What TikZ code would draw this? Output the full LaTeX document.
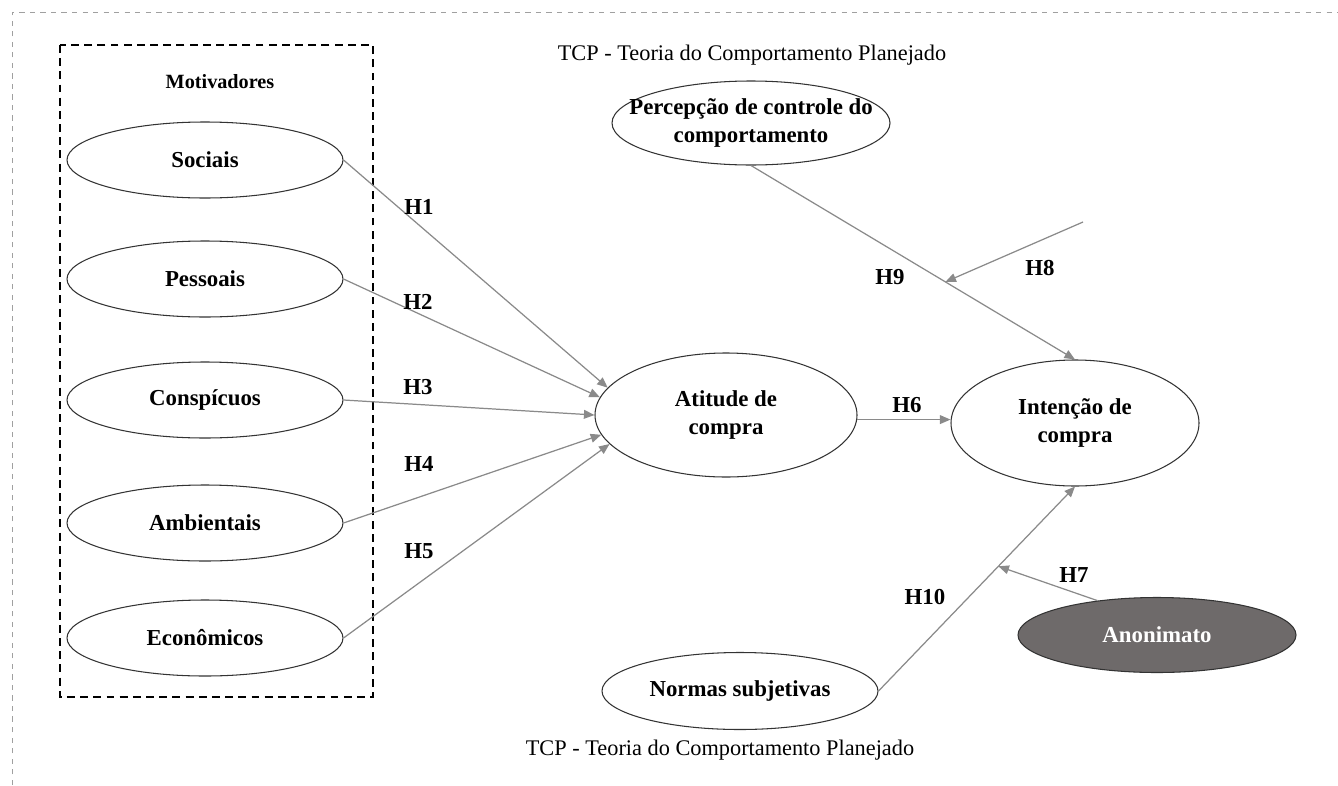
\documentclass[tikz,border=0pt]{standalone}
\usepackage{fontspec}
\setmainfont{Liberation Serif}
\usepackage{xcolor}
\usepackage{tikz}
\usetikzlibrary{arrows.meta, positioning, shapes.geometric, calc}
\definecolor{trait}{HTML}{8A8A8A}
\definecolor{cadre}{HTML}{A0A0A0}
\definecolor{sombre}{HTML}{6E6A6A}

\tikzset{
  construto/.style={ellipse, draw=black!80, line width=0.6pt, inner sep=0pt,
    align=center, font=\fontsize{13}{15.5}\selectfont\bfseries,
    minimum width=5.52cm, minimum height=1.52cm},
  hipotese/.style={trait, line width=0.7pt, -{Triangle[length=6pt, width=5pt]}},
  rotulo/.style={font=\fontsize{13}{15}\selectfont\bfseries},
  titulo/.style={font=\fontsize{12.7}{15}\selectfont}
}

\begin{document}
\begin{tikzpicture}
    \useasboundingbox (0,0) rectangle (26.76,-15.7);
    % Cadre
    \draw[cadre, dashed, line width=0.4pt] (0.24,-15.7) -- (0.24,-0.24) -- (26.76,-0.24);
    % Motivadores
    \draw[dashed, line width=0.8pt, dash pattern=on 4.5pt off 3pt] (1.2,-0.9) rectangle (7.46,-13.94);
    \node[font=\fontsize{11.5}{14}\selectfont\bfseries] (titmot) at (4.4,-1.64) {Motivadores};
    \node[construto] (sociais) at (4.1,-3.2) {Sociais};
    \node[construto] (pessoais) at (4.1,-5.58) {Pessoais};
    \node[construto] (conspicuos) at (4.1,-8.0) {Conspícuos};
    \node[construto] (ambientais) at (4.1,-10.46) {Ambientais};
    \node[construto] (economicos) at (4.1,-12.76) {Econômicos};
    % TCP
    \node[titulo] (tcphaut) at (15.04,-1.1) {TCP - Teoria do Comportamento Planejado};
    \node[titulo] (tcpbas) at (14.4,-15.0) {TCP - Teoria do Comportamento Planejado};
    \node[construto, inner xsep=-0.5cm, minimum width=5.56cm, minimum height=1.68cm] (percepcao) at (15.02,-2.46) {Percepção de controle do\\comportamento};
    \node[construto, minimum width=5.24cm, minimum height=2.48cm] (atitude) at (14.52,-8.3) {Atitude de\\compra};
    \node[construto, minimum width=4.96cm, minimum height=2.52cm] (intencao) at (21.5,-8.46) {Intenção de\\compra};
    \node[construto, minimum height=1.54cm] (normas) at (14.8,-13.82) {Normas subjetivas};
    \node[construto, fill=sombre, text=white, minimum width=5.56cm, minimum height=1.5cm] (anonimato) at (23.14,-12.7) {Anonimato};
    % Hipoteses
    \draw[hipotese] (sociais.east) -- (atitude.167);
    \draw[hipotese] (pessoais.east) -- (atitude.172);
    \draw[hipotese] (conspicuos.east) -- (atitude.180);
    \draw[hipotese] (ambientais.east) -- (atitude.189);
    \draw[hipotese] (economicos.east) -- (atitude.194);
    \draw[hipotese] (atitude.-2) -- (atitude.-2 -| intencao.west);
    \draw[hipotese] (percepcao.south) -- (intencao.north);
    \draw[hipotese] (normas.east) -- (intencao.south);
    \coordinate (origh8) at (21.66,-4.44);
    \coordinate (alvoh8) at ($(percepcao.south)!0.6!(intencao.north)$);
    \coordinate (alvoh7) at ($(normas.east)!0.61!(intencao.south)$);
    \draw[hipotese] (origh8) -- (alvoh8);
    \draw[hipotese] (anonimato.150) -- (alvoh7);
    % Rotulos
    \node[rotulo] (h1) at (8.38,-4.14) {H1};
    \node[rotulo] (h2) at (8.36,-6.04) {H2};
    \node[rotulo] (h3) at (8.36,-7.74) {H3};
    \node[rotulo] (h4) at (8.38,-9.28) {H4};
    \node[rotulo] (h5) at (8.38,-11.02) {H5};
    \node[rotulo] (h6) at (18.14,-8.1) {H6};
    \node[rotulo] (h9) at (17.8,-5.54) {H9};
    \node[rotulo] (h8) at (20.8,-5.36) {H8};
    \node[rotulo] (h10) at (18.5,-11.94) {H10};
    \node[rotulo] (h7) at (21.48,-11.5) {H7};
  \end{tikzpicture}
\end{document}
